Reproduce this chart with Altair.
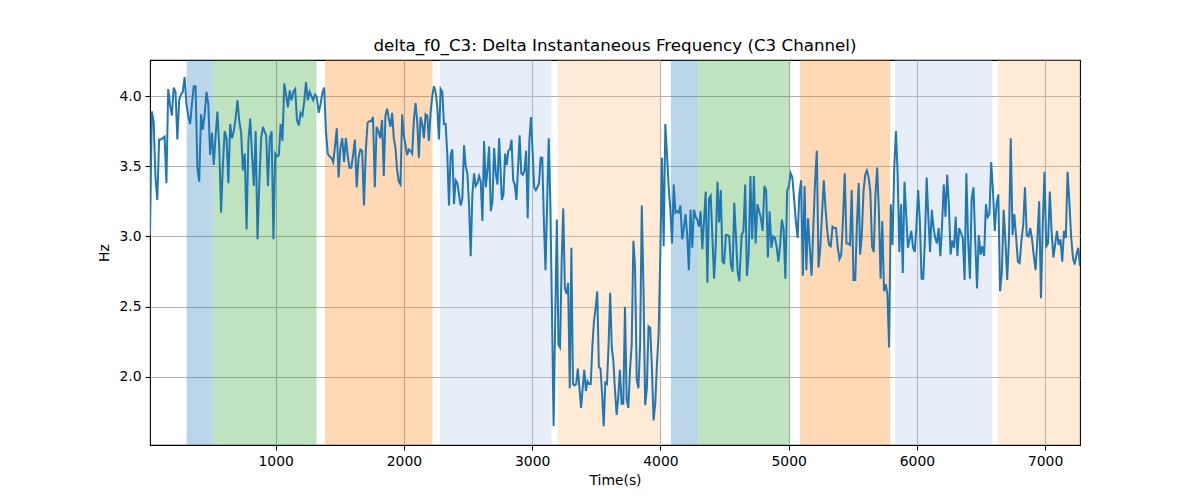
import altair as alt
import numpy as np
import pandas as pd

# ---- line data in eight consecutive stretches ----
seg_start = [20.0, 911.8, 1842.9, 2763.6, 3697.6, 4633.9, 5557.2, 6358.2]
seg_end = [901.0, 1829.6, 2742.5, 3684.0, 4615.4, 5546.5, 6329.4, 7272.0]

v1 = [3.01, 3.89, 3.82, 3.42, 3.26, 3.69, 3.69, 3.70, 3.71, 3.38, 4.05, 3.94, 3.86, 4.06, 4.03,
      3.69, 3.97, 4.01, 4.03, 4.135, 3.94, 3.86, 3.80, 3.94, 4.07, 4.07, 3.49, 3.39, 3.87, 3.76,
      3.87, 4.03, 3.94, 3.58, 3.74, 3.51, 3.72, 3.89, 3.63, 3.17, 3.51, 3.75, 3.70, 3.38, 3.80,
      3.70, 3.75, 3.84, 3.97, 3.82, 3.74, 3.47, 3.59, 3.05, 3.68, 3.84, 3.58, 3.36, 3.75, 2.98,
      3.38, 3.70, 3.78]
v2 = [3.75, 3.72, 3.36, 3.70, 3.75, 2.98, 3.59, 3.57, 3.58, 3.80, 3.68, 4.09, 4.01, 3.92, 4.04,
      3.97, 4.03, 4.05, 3.83, 3.79, 3.88, 3.86, 3.96, 4.10, 3.97, 4.03, 4.00, 3.97, 4.01, 3.99,
      3.88, 3.94, 4.02, 4.06, 3.75, 3.59, 3.57, 3.56, 3.53, 3.64, 3.77, 3.42, 3.63, 3.70, 3.53,
      3.70, 3.58, 3.49, 3.49, 3.58, 3.69, 3.35, 3.56, 3.62, 3.61, 3.22, 3.61, 3.81, 3.82, 3.82,
      3.85, 3.35, 3.78, 3.75, 3.70, 3.83]
v3 = [3.43, 3.86, 3.91, 3.84, 3.78, 3.88, 3.70, 3.63, 3.47, 3.39, 3.37, 3.87, 3.72, 3.65, 3.58,
      3.62, 3.61, 3.59, 3.83, 3.95, 3.82, 3.56, 3.85, 3.80, 3.70, 3.87, 3.86, 3.68, 3.88, 4.00,
      4.07, 4.03, 3.92, 3.69, 4.05, 4.03, 3.80, 3.80, 3.58, 3.22, 3.58, 3.62, 3.23, 3.40, 3.38,
      3.30, 3.22, 3.27, 3.65, 3.50, 3.45, 3.23, 2.86, 3.30, 3.45, 3.36, 3.38, 3.43, 3.39, 3.11,
      3.68, 3.35, 3.47, 3.64, 3.18, 3.25, 3.63, 3.45, 3.37, 3.70]
v4 = [3.26, 3.30, 3.59, 3.51, 3.61, 3.62, 3.69, 3.40, 3.37, 3.26, 3.48, 3.72, 3.45, 3.44, 3.47,
      3.61, 3.13, 3.68, 3.85, 3.61, 3.35, 3.33, 3.35, 3.38, 3.56, 3.56, 3.11, 2.76, 3.23, 3.70,
      3.23, 2.47, 1.65, 2.40, 3.12, 2.23, 2.21, 2.82, 3.20, 2.63, 2.59, 2.67, 1.92, 2.92, 1.95,
      1.94, 1.95, 2.06, 1.92, 1.78, 1.92, 2.05, 1.90, 1.97, 1.95, 1.95, 2.22, 2.40, 2.49, 2.61,
      2.07, 2.06, 1.88, 1.65, 1.96, 1.95, 2.22, 2.60, 2.21, 2.11, 1.90, 1.73, 1.86, 2.05]
v5 = [1.81, 1.81, 2.50, 1.84, 1.78, 2.05, 2.23, 2.97, 2.78, 1.98, 1.92, 2.23, 3.22, 2.63, 1.80,
      1.92, 2.36, 2.35, 2.07, 1.69, 1.81, 2.09, 2.30, 2.87, 3.56, 2.93, 3.80, 3.58, 3.35, 3.19,
      2.95, 3.37, 3.17, 3.18, 3.17, 3.22, 2.98, 3.06, 3.16, 3.01, 2.76, 3.19, 2.92, 3.19, 3.14,
      3.12, 3.07, 3.18, 2.91, 3.11, 3.32, 2.67, 3.27, 3.29, 2.99, 2.70, 2.94, 3.39, 3.10, 3.33,
      2.82, 2.81, 3.01, 3.01, 3.00, 2.80, 2.75, 3.24, 3.00, 2.75, 2.68]
v6 = [3.01, 3.04, 3.37, 2.72, 2.87, 3.43, 2.98, 3.43, 2.95, 3.23, 3.18, 3.13, 3.04, 3.36, 3.33,
      2.85, 3.18, 2.92, 3.00, 2.99, 2.93, 2.82, 2.94, 3.12, 3.05, 2.70, 3.32, 3.36, 3.45, 3.42,
      3.27, 3.11, 2.99, 3.30, 3.40, 2.72, 3.36, 2.76, 3.13, 2.92, 2.72, 3.06, 3.39, 3.61, 2.78,
      2.92, 3.16, 3.40, 3.20, 3.04, 2.94, 2.93, 3.07, 3.06, 3.06, 2.92, 2.84, 2.87, 3.12, 3.45,
      2.95, 2.95, 2.94, 3.33, 2.69, 2.69, 3.10, 3.38]
v7 = [2.87, 3.01, 3.32, 3.44, 3.47, 3.42, 3.32, 2.93, 2.89, 3.30, 3.49, 3.18, 2.70, 3.11, 2.61,
      2.66, 2.59, 2.21, 3.23, 2.94, 3.49, 3.75, 3.44, 2.89, 3.23, 2.74, 3.39, 3.16, 2.92, 2.98,
      3.04, 2.92, 2.89, 3.08, 3.33, 3.11, 2.70, 2.70, 2.99, 3.42, 3.13, 2.89, 3.19, 3.06, 2.99,
      2.95, 3.06, 2.86, 3.08, 3.37, 3.14, 3.44, 3.23, 2.87, 2.97, 2.92, 3.14, 2.86, 3.06]
v8 = [2.99, 2.69, 3.45, 2.97, 2.70, 3.27, 3.35, 2.97, 2.63, 3.01, 2.87, 2.93, 2.86, 3.23, 3.14,
      3.16, 3.53, 3.32, 3.04, 3.23, 3.30, 2.61, 2.75, 3.19, 2.97, 2.69, 2.99, 3.70, 3.01, 3.16,
      3.00, 2.82, 2.81, 2.97, 3.08, 3.35, 3.01, 3.00, 3.06, 2.98, 2.86, 2.76, 2.98, 3.25, 2.56,
      3.07, 3.46, 2.93, 2.95, 3.32, 3.04, 2.85, 2.94, 3.04, 2.94, 2.98, 2.82, 3.04, 2.99, 3.46,
      3.25, 3.00, 2.85, 2.80, 2.87, 2.92, 2.79]

# ---- shaded spans ----
span_start = [306, 516, 1385, 2280, 3200, 4082, 4295, 5089, 5830, 6633]
span_end = [516, 1318, 2223, 3151, 4002, 4295, 5005, 5791, 6587, 7280]
span_color = ["#1f77b4", "#2ca02c", "#ff7f0e", "#aec7e8", "#ffbb78",
              "#1f77b4", "#2ca02c", "#ff7f0e", "#aec7e8", "#ffbb78"]

x_ticks = [1000, 2000, 3000, 4000, 5000, 6000, 7000]
y_ticks = [2.0, 2.5, 3.0, 3.5, 4.0]
x_domain = [20, 7272]
y_domain = [1.5155, 4.2565]

segs = [v1, v2, v3, v4, v5, v6, v7, v8]
times, vals = [], []
for t0, t1, vs in zip(seg_start, seg_end, segs):
    times.extend(np.linspace(t0, t1, len(vs)).tolist())
    vals.extend(vs)
line_df = pd.DataFrame({"t": times, "v": vals})
span_df = pd.DataFrame({"s": span_start, "e": span_end, "c": span_color})

FONT = "DejaVu Sans"

xscale = alt.Scale(domain=x_domain, nice=False, zero=False)
yscale = alt.Scale(domain=y_domain, nice=False, zero=False)

spans = alt.Chart(span_df).mark_rect(opacity=0.3, clip=True).encode(
    x=alt.X("s:Q", scale=xscale,
            axis=alt.Axis(values=x_ticks, format="d", title="Time(s)")),
    x2="e:Q",
    y=alt.value(0),
    y2=alt.value(385),
    color=alt.Color("c:N", scale=None),
)

line = alt.Chart(line_df).mark_line(color="#1f77b4", strokeWidth=2.0, clip=True).encode(
    x=alt.X("t:Q", scale=xscale),
    y=alt.Y("v:Q", scale=yscale,
            axis=alt.Axis(values=y_ticks, format=".1f", title="Hz")),
)

chart = alt.layer(spans, line).properties(
    width=930,
    height=385,
    title=alt.TitleParams("delta_f0_C3: Delta Instantaneous Frequency (C3 Channel)",
                          font=FONT, fontSize=16.7, fontWeight="normal", color="black",
                          anchor="middle", offset=5),
    autosize=alt.AutoSizeParams(type="none"),
    padding={"left": 142, "top": 52, "right": 112, "bottom": 47},
).configure_view(
    stroke="black", strokeWidth=1.1
).configure_axis(
    grid=True, gridColor="#b0b0b0", gridWidth=1.1,
    domain=False, ticks=True, tickColor="black", tickSize=5, tickWidth=1.1,
    labelFont=FONT, labelFontSize=13.9, labelColor="black", labelPadding=4,
    titleFont=FONT, titleFontSize=13.9, titleColor="black", titleFontWeight="normal",
).configure_axisX(
    titlePadding=6,
).configure_axisY(
    titlePadding=7,
)

chart.save("out.html", embed_options={"renderer": "svg", "actions": False})
